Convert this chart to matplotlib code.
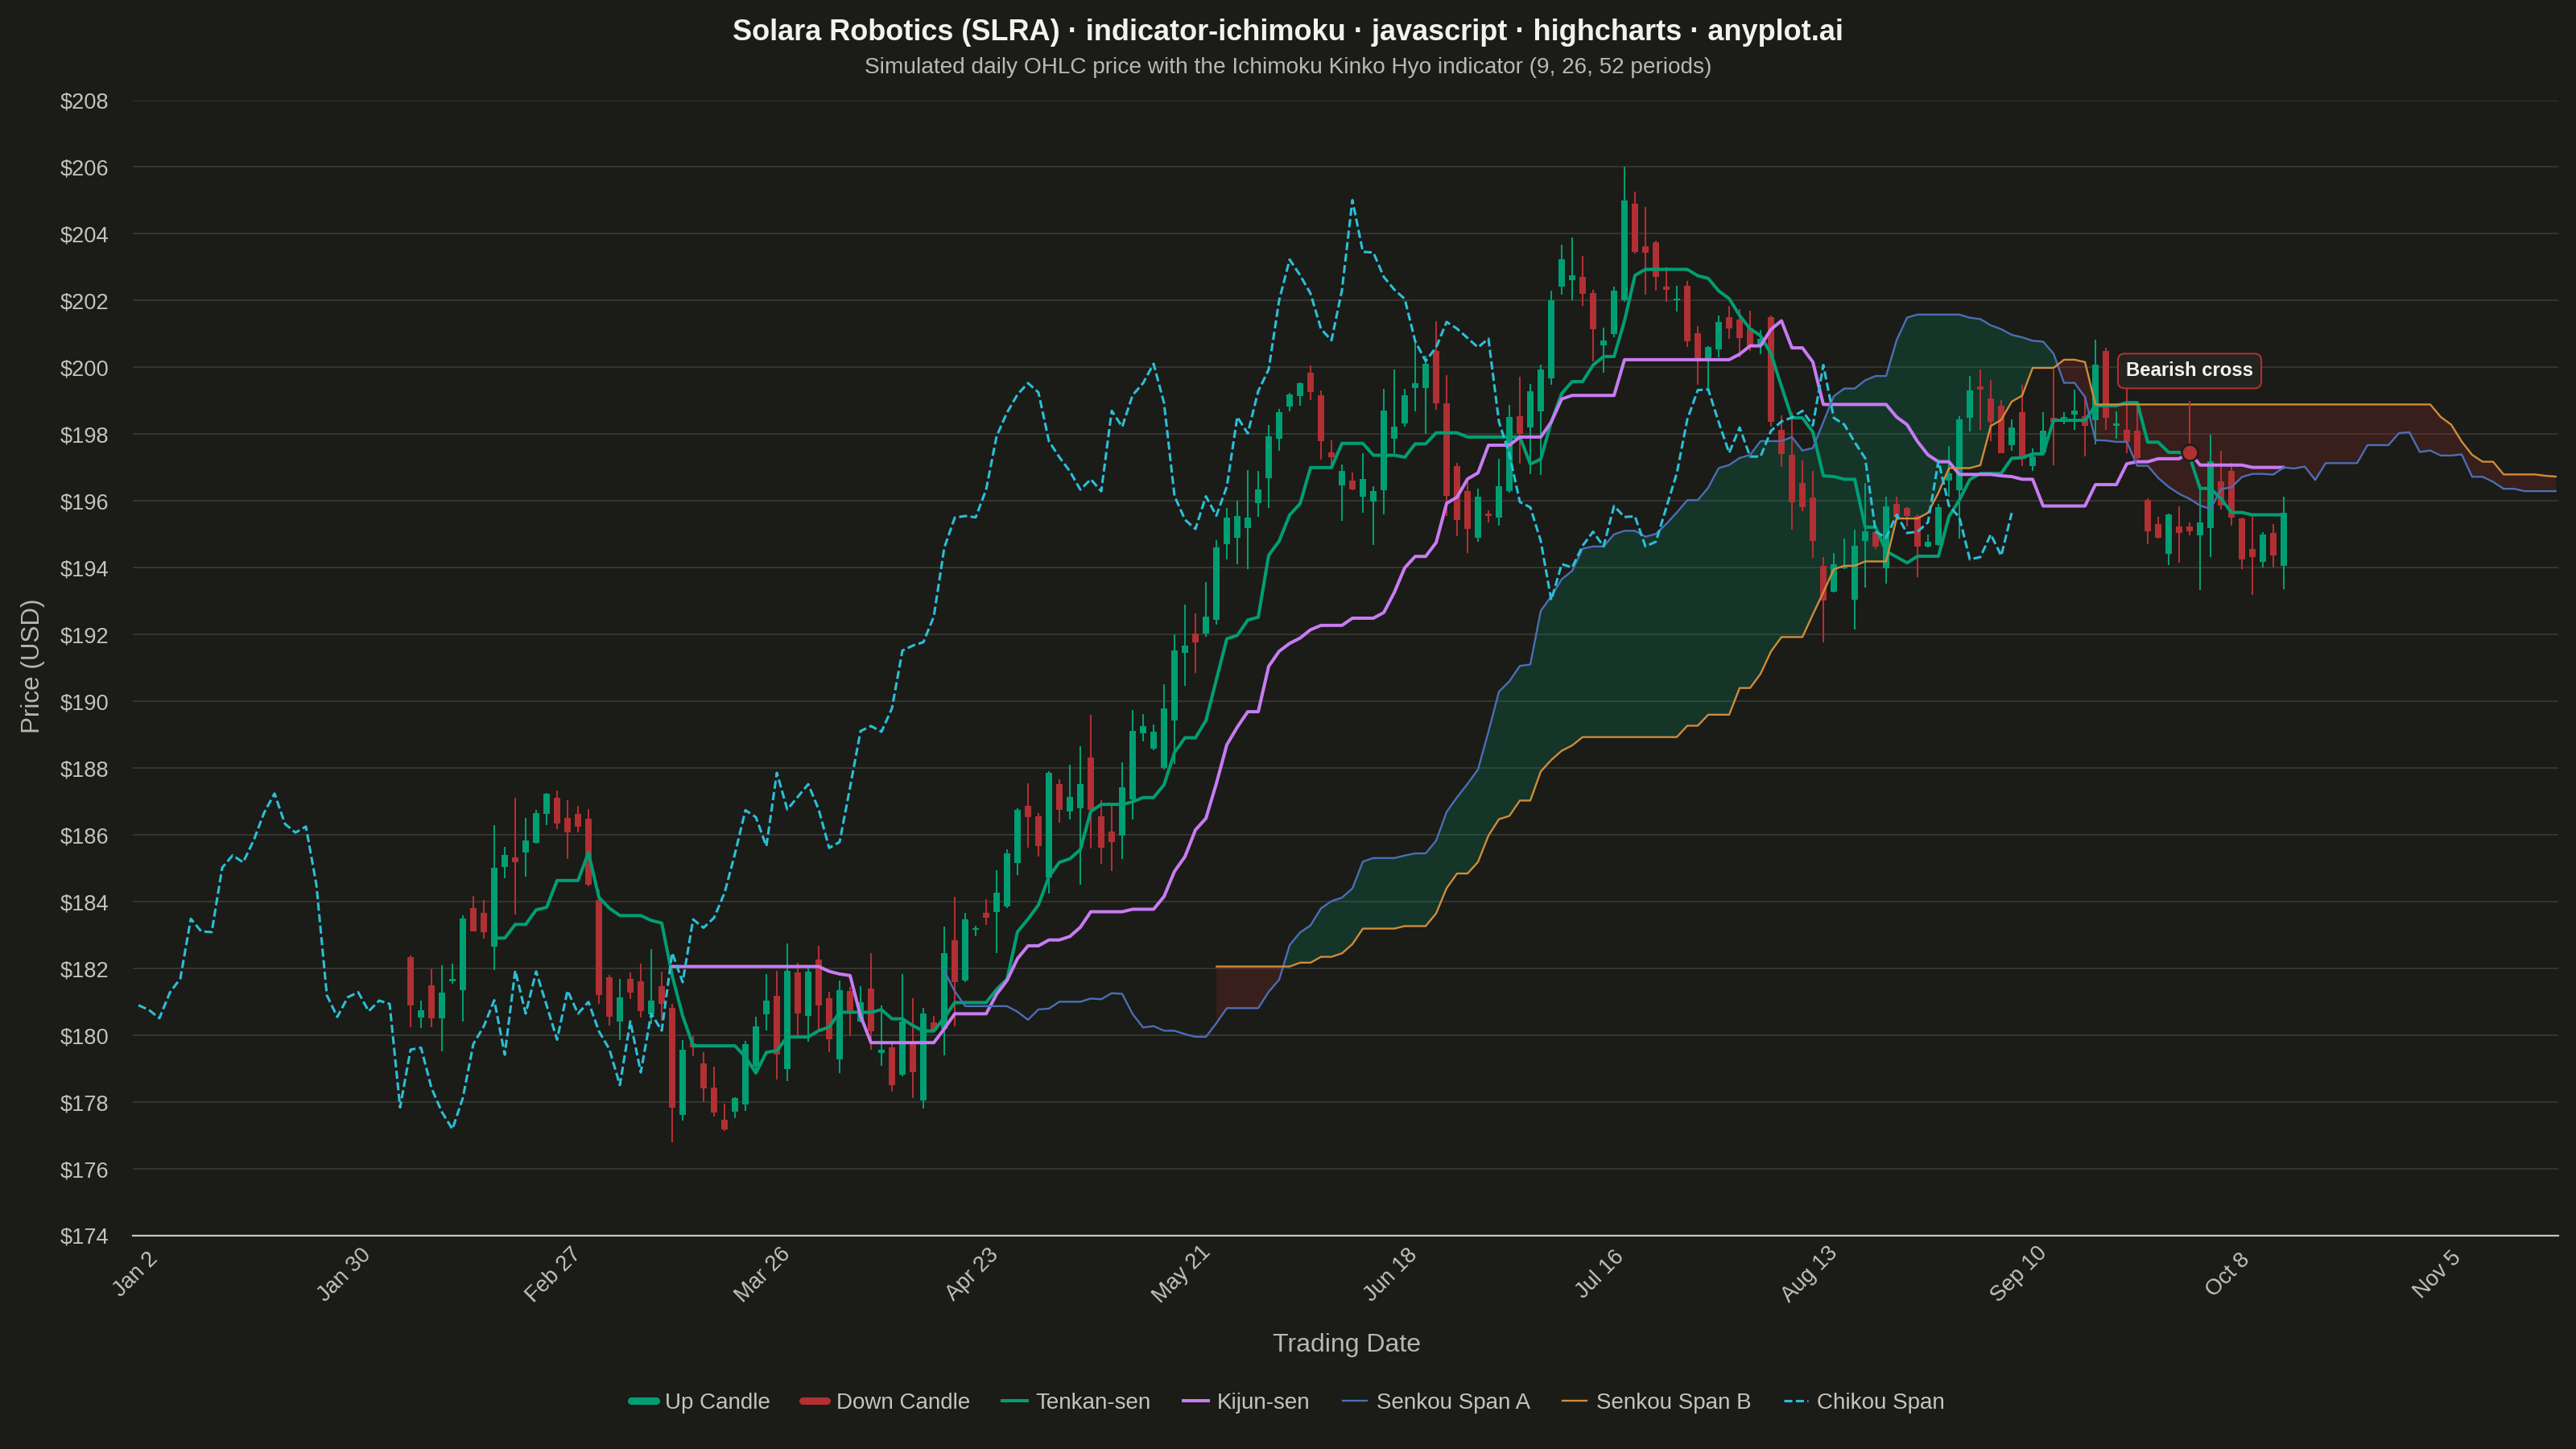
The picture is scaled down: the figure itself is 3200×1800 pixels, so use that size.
import numpy as np
import matplotlib
matplotlib.use("Agg")
import matplotlib.pyplot as plt
import matplotlib.transforms as mtransforms
from matplotlib.lines import Line2D

plt.rcParams['font.family'] = ['Liberation Sans', 'DejaVu Sans']

# ---------------- data ----------------
FIRST_CANDLE_INDEX = 26          # trading-day index of first candle (index 0 = Jan 2)
TENKAN_PERIOD = 9
KIJUN_PERIOD = 26
SENKOU_B_PERIOD = 52
DISPLACEMENT = 26

OPEN = [182.33, 180.54, 181.50, 180.50, 181.61, 181.34, 183.81, 183.67, 182.65, 185.05,
        185.33, 185.47, 185.77, 186.62, 187.11, 186.52, 186.63, 186.49, 184.05, 181.74,
        180.42, 181.70, 181.61, 180.62, 181.48, 180.83, 177.61, 179.75, 179.17, 178.43,
        177.46, 177.72, 177.94, 179.07, 180.63, 181.19, 178.98, 181.88, 180.58, 182.28,
        181.11, 179.27, 181.32, 180.41, 181.40, 179.47, 179.63, 178.83, 179.78, 178.06,
        180.39, 180.19, 182.85, 181.65, 183.17, 183.67, 183.69, 183.85, 185.15, 186.86,
        186.57, 184.73, 187.52, 186.70, 186.81, 188.31, 186.57, 186.10, 185.98, 187.06,
        189.05, 188.58, 188.01, 189.43, 191.46, 192.04, 192.04, 192.44, 194.70, 194.90,
        195.20, 195.94, 196.68, 197.86, 198.82, 199.15, 199.83, 199.16, 197.46, 196.47,
        196.61, 196.13, 195.99, 196.31, 197.87, 198.32, 199.39, 199.39, 200.48, 198.93,
        197.04, 196.29, 194.90, 195.62, 195.51, 196.29, 198.54, 198.21, 198.69, 199.66,
        202.41, 202.61, 202.71, 202.23, 200.66, 201.00, 202.02, 204.90, 203.63, 203.75,
        202.43, 202.02, 202.45, 201.02, 200.25, 200.54, 201.51, 201.44, 201.16, 200.65,
        201.51, 198.13, 197.39, 196.53, 196.11, 194.06, 193.29, 193.98, 193.04, 194.80,
        195.06, 193.99, 195.91, 195.78, 195.55, 194.64, 194.68, 196.61, 196.33, 198.50,
        199.42, 199.07, 198.86, 197.66, 198.65, 197.04, 197.46, 198.49, 198.46, 198.58,
        198.54, 198.41, 200.48, 198.26, 198.12, 198.10, 196.02, 195.32, 194.41, 195.24,
        195.24, 194.96, 195.19, 196.59, 196.91, 195.48, 194.56, 194.17, 195.04, 194.06]
HIGH = [182.39, 181.04, 181.97, 182.11, 182.14, 183.59, 184.17, 184.05, 186.29, 185.65,
        187.11, 186.52, 186.76, 187.26, 187.32, 187.03, 186.87, 186.78, 184.36, 181.80,
        181.70, 181.88, 182.14, 182.57, 181.90, 180.94, 179.85, 179.98, 179.50, 179.06,
        177.95, 178.15, 179.84, 180.56, 181.84, 181.94, 182.76, 182.16, 182.04, 182.68,
        181.31, 181.65, 181.44, 181.48, 182.45, 180.89, 179.84, 181.83, 181.11, 180.81,
        180.57, 183.25, 184.15, 183.66, 183.29, 184.08, 184.94, 185.56, 186.79, 187.55,
        186.65, 187.90, 187.66, 188.11, 188.66, 189.59, 187.03, 186.87, 188.18, 189.74,
        189.62, 189.30, 190.50, 192.01, 192.89, 192.64, 193.58, 194.82, 195.80, 196.00,
        196.92, 196.89, 198.28, 198.76, 199.23, 199.55, 200.05, 199.31, 197.82, 197.09,
        196.85, 197.42, 196.43, 199.36, 199.93, 199.36, 200.73, 200.35, 201.39, 199.77,
        197.15, 196.65, 196.38, 195.72, 197.27, 198.88, 199.71, 199.51, 200.07, 202.29,
        203.67, 203.88, 203.33, 202.33, 201.20, 202.41, 206.02, 205.27, 204.81, 203.80,
        203.00, 202.45, 202.59, 201.24, 200.64, 201.56, 201.83, 201.75, 201.70, 201.12,
        201.54, 198.56, 198.67, 197.22, 196.89, 194.32, 194.44, 194.88, 195.15, 196.53,
        195.10, 196.14, 196.14, 195.82, 195.59, 194.99, 195.91, 197.65, 198.53, 199.75,
        199.94, 199.63, 199.03, 198.44, 199.47, 197.58, 198.65, 199.94, 198.66, 199.33,
        199.15, 200.82, 200.58, 198.68, 199.42, 198.81, 196.09, 195.52, 195.62, 195.83,
        195.35, 196.49, 197.98, 197.50, 197.15, 195.51, 195.52, 195.06, 195.32, 196.13]
LOW = [180.25, 180.21, 180.25, 179.53, 181.54, 180.40, 183.11, 182.90, 181.95, 184.70,
       183.62, 184.76, 185.75, 186.29, 186.17, 185.29, 186.07, 184.46, 180.94, 180.29,
       179.85, 181.08, 180.54, 180.33, 180.43, 176.80, 177.45, 179.38, 178.01, 177.56,
       177.14, 177.52, 177.73, 178.88, 180.15, 178.67, 178.62, 179.92, 179.81, 180.12,
       179.50, 178.86, 179.99, 180.39, 179.58, 179.08, 178.31, 178.77, 178.13, 177.81,
       180.12, 179.41, 180.26, 181.60, 182.97, 183.31, 182.46, 183.82, 184.79, 185.61,
       185.36, 184.24, 186.36, 186.46, 184.50, 185.59, 185.13, 184.93, 185.27, 186.47,
       188.81, 188.54, 187.95, 188.12, 190.47, 190.84, 191.93, 192.29, 194.25, 194.11,
       193.95, 195.52, 195.78, 197.51, 198.68, 198.86, 199.03, 197.23, 197.05, 195.40,
       196.31, 195.64, 194.69, 195.59, 197.42, 198.22, 198.68, 198.02, 198.72, 195.56,
       194.94, 194.44, 194.77, 195.35, 195.27, 196.26, 197.12, 196.81, 196.77, 199.49,
       202.18, 202.01, 201.83, 200.19, 199.85, 200.90, 201.97, 203.42, 202.18, 202.31,
       201.97, 201.68, 200.60, 199.47, 199.31, 200.30, 200.86, 200.30, 200.49, 200.40,
       198.22, 197.03, 195.15, 195.69, 194.30, 191.76, 193.27, 193.95, 192.16, 193.41,
       194.57, 193.53, 195.44, 195.24, 193.71, 194.62, 194.65, 196.13, 194.88, 198.08,
       198.12, 197.78, 197.42, 197.50, 197.05, 196.89, 197.44, 197.07, 198.30, 198.12,
       197.33, 197.70, 198.12, 197.87, 197.42, 197.23, 194.70, 194.88, 194.09, 194.14,
       194.96, 193.33, 194.33, 195.75, 195.27, 193.95, 193.19, 194.01, 194.01, 193.35]
CLOSE = [180.90, 180.76, 180.51, 181.28, 181.70, 183.49, 183.11, 183.09, 185.02, 185.39,
         185.18, 185.83, 186.66, 187.24, 186.33, 186.07, 186.25, 184.51, 181.20, 180.55,
         181.14, 181.29, 180.72, 181.04, 180.94, 177.84, 179.57, 179.63, 178.42, 177.70,
         177.19, 178.13, 179.74, 180.27, 181.05, 179.42, 181.94, 180.65, 181.91, 180.90,
         179.87, 181.34, 180.65, 181.00, 180.12, 179.58, 178.51, 180.42, 178.89, 180.65,
         180.14, 182.47, 181.59, 183.47, 183.22, 183.52, 184.26, 185.44, 186.74, 186.53,
         185.66, 187.86, 186.76, 187.14, 187.52, 186.76, 185.61, 185.79, 187.43, 189.11,
         189.26, 189.09, 189.79, 191.52, 191.67, 191.77, 192.54, 194.60, 195.50, 195.55,
         195.51, 196.34, 197.94, 198.65, 199.19, 199.53, 199.25, 197.79, 197.31, 196.89,
         196.34, 196.65, 196.29, 198.70, 198.22, 199.17, 199.53, 200.11, 198.93, 196.15,
         195.44, 195.16, 196.14, 195.56, 196.43, 198.52, 198.02, 199.29, 199.94, 202.01,
         203.23, 202.76, 202.21, 201.15, 200.81, 202.31, 205.01, 203.46, 203.44, 202.71,
         202.33, 202.05, 200.78, 200.19, 200.60, 201.36, 201.16, 200.88, 200.60, 200.86,
         198.37, 197.40, 195.97, 195.81, 194.80, 193.03, 194.11, 194.01, 194.66, 195.08,
         194.64, 195.85, 195.52, 195.54, 194.64, 194.78, 195.81, 196.83, 198.44, 199.32,
         199.34, 198.36, 197.44, 198.20, 197.33, 197.33, 198.10, 198.38, 198.50, 198.70,
         198.26, 200.07, 198.49, 198.29, 197.76, 197.28, 195.08, 194.90, 195.59, 195.04,
         195.08, 195.36, 197.20, 195.86, 195.51, 194.25, 194.32, 195.00, 194.36, 195.64]

TICK_LABELS = ["Jan 2", "Jan 30", "Feb 27", "Mar 26", "Apr 23", "May 21",
               "Jun 18", "Jul 16", "Aug 13", "Sep 10", "Oct 8", "Nov 5"]
TICK_STEP = 20                     # trading days between labels
Y_TICKS = list(range(174, 209, 2))
BEARISH_CROSS_INDEX = 196
BEARISH_CROSS_LABEL = "Bearish cross"

TITLE = "Solara Robotics (SLRA) · indicator-ichimoku · javascript · highcharts · anyplot.ai"
SUBTITLE = "Simulated daily OHLC price with the Ichimoku Kinko Hyo indicator (9, 26, 52 periods)"

# ---------------- styles ----------------
BG = "#1b1b17"
GRID = "#3a3a36"
AXIS = "#c8c8c0"
TEXT = "#c4c4bc"
UP = "#009e73"
DOWN = "#b03033"
TENKAN = "#009e73"
KIJUN = "#c77cf2"
SPAN_A = "#4c6eb4"
SPAN_B = "#d08c3a"
CHIKOU = "#2bbfd8"

# ---------------- computations ----------------
O = np.array(OPEN); H = np.array(HIGH); L = np.array(LOW); C = np.array(CLOSE)
n = len(C)
x_c = np.arange(FIRST_CANDLE_INDEX, FIRST_CANDLE_INDEX + n)


def midpoint(period):
    out = np.full(n, np.nan)
    for k in range(period - 1, n):
        out[k] = (H[k - period + 1:k + 1].max() + L[k - period + 1:k + 1].min()) / 2
    return out


tenkan = midpoint(TENKAN_PERIOD)
kijun = midpoint(KIJUN_PERIOD)
span_a = (tenkan + kijun) / 2
span_b = midpoint(SENKOU_B_PERIOD)
x_lead = x_c + DISPLACEMENT
x_chikou = x_c - DISPLACEMENT

# ---------------- figure ----------------
fig = plt.figure(figsize=(16, 9), dpi=200, facecolor=BG)
ax_l, ax_r, ax_t, ax_b = 165 / 3200, 3178 / 3200, 1 - 124.5 / 1800, 1 - 1535 / 1800
ax = fig.add_axes([ax_l, ax_b, ax_r - ax_l, ax_t - ax_b])
ax.set_facecolor(BG)
ax.set_xlim(-0.54, 231.23)
ax.set_ylim(174, 208)

# grid
ax.set_yticks(Y_TICKS)
ax.set_yticklabels([f"${v}" for v in Y_TICKS])
ax.tick_params(axis='y', length=0, pad=10.5, labelsize=9.8, labelcolor=TEXT)
ax.set_xticks([])
for v in Y_TICKS[1:]:
    ax.axhline(v, color=GRID, lw=0.6, zorder=0.5)
for s in ['left', 'right', 'top']:
    ax.spines[s].set_visible(False)
ax.spines['bottom'].set_color(AXIS)
ax.spines['bottom'].set_linewidth(0.8)

# cloud
valid = ~np.isnan(span_b)
xa, sa, sb = x_lead[valid], span_a[valid], span_b[valid]
ax.fill_between(xa, sa, sb, where=sa >= sb, interpolate=True, color=UP, alpha=0.2, lw=0, zorder=1)
ax.fill_between(xa, sa, sb, where=sa < sb, interpolate=True, color=DOWN, alpha=0.2, lw=0, zorder=1)

# candles
up = C >= O
cols = np.where(up, UP, DOWN)
ax.vlines(x_c, L, H, colors=cols, lw=0.75, zorder=3)
ax.bar(x_c, np.maximum(np.abs(C - O), 0.05), bottom=np.minimum(O, C), width=0.62,
       color=cols, lw=0, zorder=3.1)

# lines
kw = dict(solid_joinstyle='round', solid_capstyle='round')
ax.plot(x_c, tenkan, color=TENKAN, lw=1.45, zorder=4, **kw)
ax.plot(x_c, kijun, color=KIJUN, lw=1.45, zorder=4.1, **kw)
ax.plot(x_lead, span_a, color=SPAN_A, lw=0.85, zorder=4.2, **kw)
ax.plot(x_lead, span_b, color=SPAN_B, lw=0.85, zorder=4.3, **kw)
ax.plot(x_chikou, C, color=CHIKOU, lw=1.1, zorder=4.4, dashes=(3.3, 1.4),
        dash_joinstyle='round')

# x tick labels
trans = mtransforms.blended_transform_factory(ax.transData, ax.transAxes)
for k, lab in enumerate(TICK_LABELS):
    ax.text(k * TICK_STEP - 0.3, -0.0345, lab, transform=trans, rotation=45,
            ha='center', va='center', rotation_mode='anchor', fontsize=9.8, color=TEXT)

# bearish cross annotation
ci = BEARISH_CROSS_INDEX - FIRST_CANDLE_INDEX
cy = kijun[ci]
ax.annotate('', xy=(BEARISH_CROSS_INDEX, cy), xytext=(0, 22.7), textcoords='offset points',
            arrowprops=dict(arrowstyle='-', color=DOWN, lw=0.75, shrinkA=0, shrinkB=0),
            zorder=6)
ax.plot([BEARISH_CROSS_INDEX], [cy], 'o', ms=7.2, mfc=DOWN, mec=BG, mew=0.9, zorder=7)
ax.annotate(BEARISH_CROSS_LABEL, xy=(BEARISH_CROSS_INDEX, cy), xytext=(0, 36.4),
            textcoords='offset points', ha='center', va='center', fontsize=8.6,
            fontweight='bold', color='#f4f4f0', zorder=8,
            bbox=dict(boxstyle='round,pad=0.42,rounding_size=0.35', fc='#242420', ec=DOWN, lw=0.75))

# titles
fig.text(0.5, 1 - 41 / 1800, TITLE, ha='center', va='center', fontsize=13,
         fontweight='bold', color='#f2f2f2')
fig.text(0.5, 1 - 84 / 1800, SUBTITLE, ha='center', va='center', fontsize=10.1, color='#b9b9b4')
fig.text(41 / 3200, 1 - 827 / 1800, "Price (USD)", rotation=90, ha='center', va='center',
         fontsize=11.3, color='#b8b8b0')
fig.text(1673 / 3200, 1 - 1671 / 1800, "Trading Date", ha='center', va='center',
         fontsize=11.5, color='#b8b8b0')

# legend
handles = [
    Line2D([0], [0], color=UP, lw=3.3, solid_capstyle='round'),
    Line2D([0], [0], color=DOWN, lw=3.3, solid_capstyle='round'),
    Line2D([0], [0], color=TENKAN, lw=1.45),
    Line2D([0], [0], color=KIJUN, lw=1.45),
    Line2D([0], [0], color=SPAN_A, lw=0.85),
    Line2D([0], [0], color=SPAN_B, lw=0.85),
    Line2D([0], [0], color=CHIKOU, lw=1.1, dashes=(3.3, 1.4)),
]
labels = ["Up Candle", "Down Candle", "Tenkan-sen", "Kijun-sen",
          "Senkou Span A", "Senkou Span B", "Chikou Span"]
fig.legend(handles, labels, loc='center', bbox_to_anchor=(0.5, 1 - 1743 / 1800), ncol=7,
           frameon=False, fontsize=10, handlelength=1.1, handletextpad=0.4,
           columnspacing=1.45, labelcolor=TEXT)

fig.savefig("out.png", dpi=200, facecolor=BG)
